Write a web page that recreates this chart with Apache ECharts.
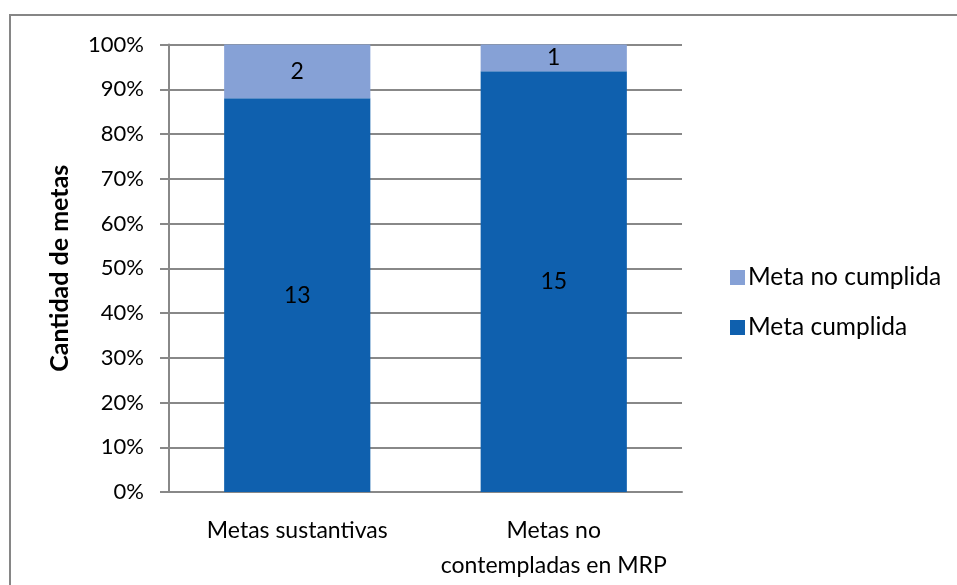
<!DOCTYPE html>
<html>
<head>
<meta charset="utf-8">
<script src="https://cdn.jsdelivr.net/npm/echarts@6/dist/echarts.min.js"></script>
<style>
  html, body { margin: 0; padding: 0; background: #fff; }
  #chart { width: 957px; height: 585px; }
</style>
</head>
<body>
<div id="chart"></div>
<script>
// categorias y valores
const categories = ["Metas sustantivas", "Metas no contempladas en MRP"];
const categoryLabels = ["Metas sustantivas", "Metas no\ncontempladas en MRP"];
// cantidad de metas (etiquetas)
const cumplidaCount = [13, 15];
const noCumplidaCount = [2, 1];
// porcentaje de la barra apilada
const cumplidaPct = [88, 94];
const noCumplidaPct = [12, 6];

const fontFamily = "Lato";

let chart = echarts.init(document.getElementById("chart"));

chart.setOption({
  animation: false,
  textStyle: { fontFamily: fontFamily, color: "#000" },
  graphic: [
    {
      type: "rect",
      shape: { x: 10, y: 15, width: 1000, height: 1000 },
      style: { fill: "none", stroke: "#868686", lineWidth: 2 }
    }
  ],
  grid: { left: 169, right: 275, top: 44.5, bottom: 93 },
  legend: {
    orient: "vertical",
    left: 725,
    top: 260,
    itemWidth: 15,
    itemHeight: 15,
    itemGap: 25,
    icon: "rect",
    data: ["Meta no cumplida", "Meta cumplida"],
    textStyle: { fontSize: 24.5, color: "#000", fontFamily: fontFamily, padding: [0, 0, 0, -2] }
  },
  xAxis: {
    type: "category",
    data: categories,
    axisLine: { lineStyle: { color: "#888", width: 2 } },
    axisTick: { show: false },
    axisLabel: {
      interval: 0,
      fontSize: 23,
      color: "#000",
      margin: 21,
      lineHeight: 35,
      formatter: function (v, i) { return categoryLabels[i]; }
    }
  },
  yAxis: {
    type: "value",
    min: 0,
    max: 100,
    interval: 10,
    name: "Cantidad de metas",
    nameLocation: "middle",
    nameGap: 97,
    nameTextStyle: { fontSize: 25, fontWeight: "bold", color: "#000" },
    axisLine: { show: true, lineStyle: { color: "#888", width: 2 } },
    axisTick: { show: true, length: 9, lineStyle: { color: "#888", width: 2 } },
    splitLine: { lineStyle: { color: "#888", width: 2 } },
    axisLabel: { fontSize: 22, color: "#000", margin: 25, formatter: "{value}%" }
  },
  series: [
    {
      name: "Meta cumplida",
      type: "bar",
      stack: "total",
      barWidth: "57%",
      itemStyle: { color: "#0F60AE" },
      data: cumplidaPct,
      label: {
        show: true,
        position: "inside",
        fontSize: 23,
        color: "#000",
        fontFamily: fontFamily,
        formatter: function (p) { return cumplidaCount[p.dataIndex]; }
      }
    },
    {
      name: "Meta no cumplida",
      type: "bar",
      stack: "total",
      barWidth: "57%",
      itemStyle: { color: "#86A1D6" },
      data: noCumplidaPct,
      label: {
        show: true,
        position: "inside",
        fontSize: 23,
        color: "#000",
        fontFamily: fontFamily,
        formatter: function (p) { return noCumplidaCount[p.dataIndex]; }
      }
    }
  ]
});
</script>
</body>
</html>
